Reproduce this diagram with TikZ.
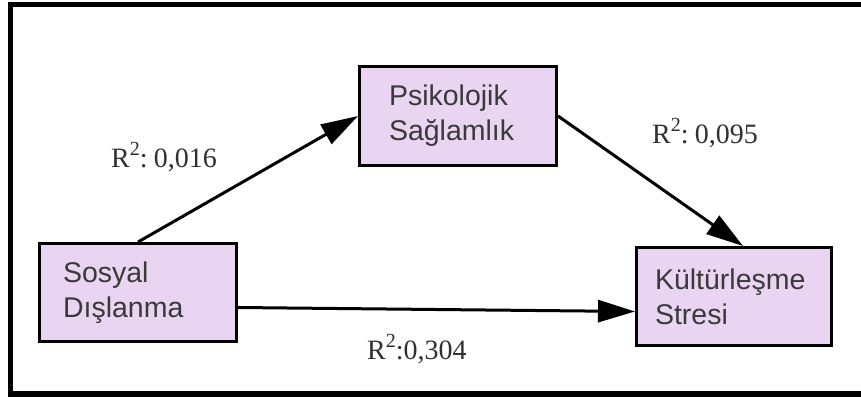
\documentclass[tikz,border=0pt]{standalone}
\usepackage{fontspec}
\setmainfont{Liberation Serif}
\newfontfamily\boxfont{Liberation Sans}
\usetikzlibrary{arrows.meta}
\definecolor{boxfill}{HTML}{E9D4F1}
\definecolor{boxtext}{HTML}{3A3A3A}
\definecolor{labtext}{HTML}{303030}
\newcommand{\sqsup}{\raisebox{0.4em}{\fontsize{20}{20}\selectfont 2}}
\tikzset{
  varbox/.style={draw=black, line width=3pt, fill=boxfill, text=boxtext,
    font=\boxfont\fontsize{28.5}{35}\selectfont, align=left, inner ysep=0pt},
  link/.style={line width=3pt, -{Triangle[length=37pt,width=22pt]}},
  rlabel/.style={anchor=base west, text=labtext, inner sep=0pt,
    font=\fontsize{28}{30}\selectfont}
}
\begin{document}
\begin{tikzpicture}[x=1pt,y=-1pt]
\useasboundingbox (0,0) rectangle (861,396);
\fill[white] (0,0) rectangle (861,396);
\draw[line width=5.5pt] (10.5,4.5) -- (880,4.5);
\draw[line width=5.5pt] (10.5,2) -- (10.5,393.5);
\draw[line width=6pt] (8,393.5) -- (880,393.5);
% boxes
\node[varbox, minimum width=197pt, minimum height=99pt, inner xsep=29.5pt, text width=138pt] (ps) at (458,116) {Psikolojik\\Sağlamlık};
\node[varbox, minimum width=197pt, minimum height=98pt, inner xsep=23.5pt, text width=150pt] (sd) at (138,292.5) {Sosyal\\Dışlanma};
\node[varbox, minimum width=195pt, minimum height=98pt, inner xsep=18.5pt, text width=158pt] (ks) at (734,296.5) {Kültürleşme\\Stresi};
% connectors
\draw[link] (sd.north) -- (ps.west);
\draw[link] (ps.east) -- ([xshift=9pt]ks.north);
\draw[link] ([yshift=-15pt]sd.east) -- ([yshift=-15pt]ks.west);
% labels
\node[rlabel] (l1) at (111,167) {R\sqsup:\hspace{0.22em}0,016};
\node[rlabel] (l2) at (652,143) {R\sqsup:\hspace{0.22em}0,095};
\node[rlabel] (l3) at (367,359) {R\sqsup:0,304};
\end{tikzpicture}
\end{document}
